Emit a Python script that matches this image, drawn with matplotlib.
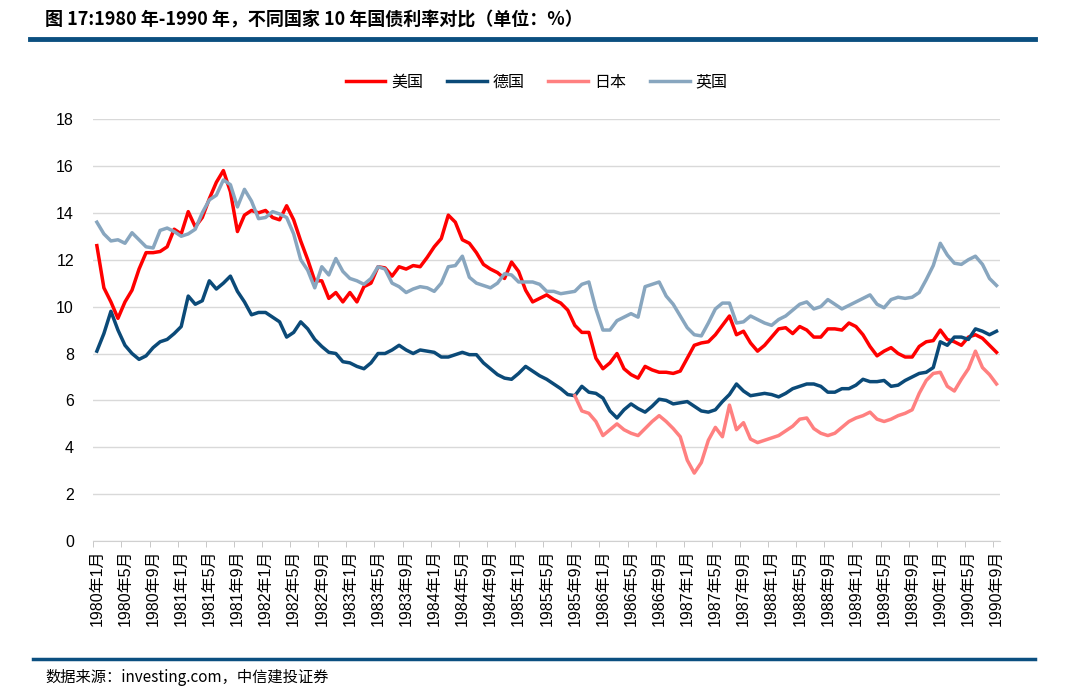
import matplotlib
matplotlib.use("Agg")
import matplotlib.pyplot as plt
import numpy as np

plt.rcParams['font.family'] = ['Noto Sans CJK SC', 'DejaVu Sans']
tick_font = ['Liberation Sans', 'Noto Sans CJK SC']

# 月度数据：1980年1月 - 1990年9月
months = [f"{1980 + k // 12}年{k % 12 + 1}月" for k in range(129)]

us = [12.6, 10.8, 10.2, 9.5, 10.2, 10.7, 11.6, 12.3, 12.3, 12.35,
      12.55, 13.3, 13.1, 14.05, 13.4, 13.8, 14.6, 15.3, 15.8, 14.9,
      13.2, 13.9, 14.1, 14.0, 14.1, 13.8, 13.7, 14.3, 13.7, 12.8,
      12.0, 11.1, 11.1, 10.35, 10.6, 10.2, 10.6, 10.2, 10.85, 11.0,
      11.7, 11.65, 11.3, 11.7, 11.6, 11.75, 11.7, 12.1, 12.55, 12.9,
      13.9, 13.6, 12.85, 12.7, 12.3, 11.8, 11.6, 11.45, 11.2, 11.9,
      11.5, 10.7, 10.2, 10.35, 10.5, 10.3, 10.15, 9.85, 9.2, 8.9,
      8.9, 7.8, 7.35, 7.6, 8.0, 7.35, 7.1, 6.95, 7.45, 7.3,
      7.2, 7.2, 7.15, 7.25, 7.8, 8.35, 8.45, 8.5, 8.8, 9.2,
      9.6, 8.8, 8.95, 8.45, 8.1, 8.35, 8.7, 9.05, 9.1, 8.85,
      9.15, 9.0, 8.7, 8.7, 9.05, 9.05, 9.0, 9.3, 9.15, 8.8,
      8.3, 7.9, 8.1, 8.25, 8.0, 7.85, 7.85, 8.3, 8.5, 8.55,
      9.0, 8.6, 8.5, 8.35, 8.7, 8.8, 8.65, 8.35, 8.05]

germany = [8.1, 8.85, 9.8, 9.0, 8.35, 8.0, 7.75, 7.9, 8.25, 8.5,
           8.6, 8.85, 9.15, 10.45, 10.1, 10.25, 11.1, 10.75, 11.0, 11.3,
           10.65, 10.2, 9.65, 9.75, 9.75, 9.55, 9.35, 8.7, 8.9, 9.35,
           9.05, 8.6, 8.3, 8.05, 8.0, 7.65, 7.6, 7.45, 7.35, 7.6,
           8.0, 8.0, 8.15, 8.35, 8.15, 8.0, 8.15, 8.1, 8.05, 7.85,
           7.85, 7.95, 8.05, 7.95, 7.95, 7.6, 7.35, 7.1, 6.95, 6.9,
           7.15, 7.45, 7.25, 7.05, 6.9, 6.7, 6.5, 6.25, 6.2, 6.6,
           6.35, 6.3, 6.1, 5.55, 5.25, 5.6, 5.85, 5.65, 5.5, 5.75,
           6.05, 6.0, 5.85, 5.9, 5.95, 5.75, 5.55, 5.5, 5.6, 5.95,
           6.25, 6.7, 6.4, 6.2, 6.25, 6.3, 6.25, 6.15, 6.3, 6.5,
           6.6, 6.7, 6.7, 6.6, 6.35, 6.35, 6.5, 6.5, 6.65, 6.9,
           6.8, 6.8, 6.85, 6.6, 6.65, 6.85, 7.0, 7.15, 7.2, 7.4,
           8.5, 8.35, 8.7, 8.7, 8.6, 9.05, 8.95, 8.8, 8.95]

# 日本从1985年9月开始
japan = [np.nan] * 68 + [
    6.2, 5.55, 5.45, 5.1, 4.5, 4.75, 5.0, 4.75, 4.6, 4.5,
    4.8, 5.1, 5.35, 5.1, 4.8, 4.45, 3.45, 2.9, 3.35, 4.3,
    4.85, 4.45, 5.8, 4.75, 5.05, 4.35, 4.2, 4.3, 4.4, 4.5,
    4.7, 4.9, 5.2, 5.25, 4.8, 4.6, 4.5, 4.6, 4.85, 5.1,
    5.25, 5.35, 5.5, 5.2, 5.1, 5.2, 5.35, 5.45, 5.6, 6.3,
    6.85, 7.15, 7.2, 6.6, 6.4, 6.9, 7.35, 8.1, 7.4, 7.1, 6.7]

uk = [13.6, 13.1, 12.8, 12.85, 12.7, 13.15, 12.85, 12.55, 12.5, 13.25,
      13.35, 13.2, 13.0, 13.1, 13.3, 14.0, 14.55, 14.75, 15.4, 15.2,
      14.25, 15.0, 14.5, 13.75, 13.8, 14.05, 13.95, 13.8, 13.1, 12.0,
      11.55, 10.8, 11.7, 11.35, 12.05, 11.5, 11.2, 11.1, 10.95, 11.2,
      11.7, 11.6, 11.0, 10.85, 10.6, 10.75, 10.85, 10.8, 10.65, 11.0,
      11.7, 11.75, 12.15, 11.25, 11.0, 10.9, 10.8, 11.0, 11.4, 11.35,
      11.05, 11.05, 11.05, 10.95, 10.65, 10.65, 10.55, 10.6, 10.65, 10.95,
      11.05, 9.9, 9.0, 9.0, 9.4, 9.55, 9.7, 9.55, 10.85, 10.95,
      11.05, 10.45, 10.1, 9.6, 9.1, 8.8, 8.75, 9.3, 9.9, 10.15,
      10.15, 9.3, 9.35, 9.6, 9.45, 9.3, 9.2, 9.45, 9.6, 9.85,
      10.1, 10.2, 9.9, 10.0, 10.3, 10.1, 9.9, 10.05, 10.2, 10.35,
      10.5, 10.1, 9.95, 10.3, 10.4, 10.35, 10.4, 10.6, 11.15, 11.75,
      12.7, 12.2, 11.85, 11.8, 12.0, 12.15, 11.8, 11.2, 10.9]

x = np.arange(len(months))

fig = plt.figure(figsize=(10.73, 7.0), dpi=100)
ax = fig.add_axes([0.087, 0.227, 0.845, 0.603])

ax.plot(x, us, color='#ff0000', lw=2.5, label='美国')
ax.plot(x, germany, color='#0b4a78', lw=2.5, label='德国')
ax.plot(x, japan, color='#ff8080', lw=2.5, label='日本')
ax.plot(x, uk, color='#88a6bf', lw=2.5, label='英国')

ax.set_xlim(-0.5, len(months) - 0.5)
ax.set_ylim(0, 18)
ax.set_yticks(range(0, 19, 2))
ax.set_yticklabels([str(v) for v in range(0, 19, 2)], family=tick_font, fontsize=11.5)
ax.yaxis.grid(True, color='#d9d9d9', lw=1)
ax.set_axisbelow(True)

ax.set_xticks(x[::4])
ax.set_xticklabels(months[::4], rotation=90, fontsize=11.5, family=tick_font)
ax.set_xticks(np.arange(-0.5, len(months), 4), minor=True)
ax.tick_params(axis='x', which='major', length=0, pad=6)
ax.tick_params(axis='x', which='minor', length=4, color='#bfbfbf')
ax.tick_params(axis='y', length=0, pad=14)

for s in ['top', 'right', 'left']:
    ax.spines[s].set_visible(False)
ax.spines['bottom'].set_color('#d0d0d0')

fig.legend(loc='center', bbox_to_anchor=(0.5, 1 - 82 / 700), ncol=4,
           frameon=False, prop={'family': tick_font[::-1], 'size': 11.5},
           handlelength=2.5, columnspacing=1.5, handletextpad=0.35)

fig.text(45 / 1073, 1 - 20 / 700, '图 17:1980 年-1990 年，不同国家 10 年国债利率对比（单位：%）',
         fontsize=13, fontweight='bold', va='center', ha='left')
fig.add_artist(plt.Line2D([30 / 1073, 1035 / 1073], [1 - 39 / 700, 1 - 39 / 700],
                          color='#0b4f80', lw=3.5))
fig.add_artist(plt.Line2D([33 / 1073, 1035 / 1073], [1 - 659 / 700, 1 - 659 / 700],
                          color='#0b4f80', lw=2.5))
fig.text(45 / 1073, 1 - 678 / 700, '数据来源：investing.com，中信建投证券',
         fontsize=11, style='italic', va='center', ha='left')

fig.savefig('out.png', dpi=100)
